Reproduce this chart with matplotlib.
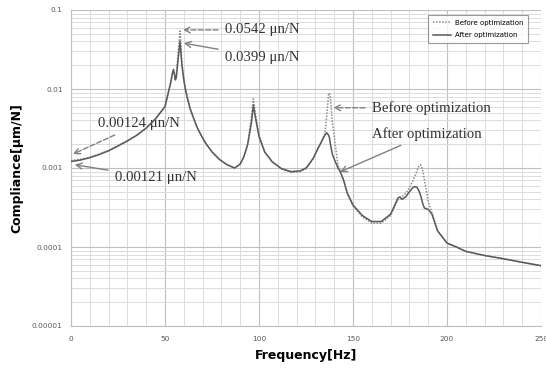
import matplotlib
matplotlib.use("Agg")
import matplotlib.pyplot as plt
from matplotlib.ticker import FixedLocator, LogLocator, NullFormatter, MultipleLocator

freq = [0, 5, 10, 15, 20, 25, 30, 35, 40, 45,
        48, 50, 52, 53, 54, 54.5, 55, 55.5, 56, 57,
        58, 59, 60, 61, 62, 63.3, 65, 66, 67, 68.5, 70, 72,
        75, 79, 83, 87, 90, 92, 94, 96, 97, 98,
        100, 103, 107, 112, 117, 122, 125, 127, 129, 131, 133, 135,
        136, 137, 137.5, 138, 139, 140, 142, 143, 145, 147,
        150, 155, 160, 165, 170, 172, 174, 175, 176, 178,
        180, 182, 183, 184, 185, 186, 187, 188, 190, 192,
        195, 200, 205, 210, 220, 230, 240, 250]

after = [0.00121, 0.00126, 0.00135, 0.00148, 0.00165, 0.0019, 0.0022, 0.0026, 0.0032, 0.0042,
         0.0052, 0.006, 0.0095, 0.012, 0.016, 0.0175, 0.0155, 0.013, 0.014, 0.024,
         0.0399, 0.02, 0.013, 0.0095, 0.0075, 0.0057, 0.0044, 0.0038, 0.0033, 0.0028, 0.0024, 0.002,
         0.0016, 0.00128, 0.0011, 0.001, 0.00112, 0.0014, 0.002, 0.0038, 0.0062, 0.0045,
         0.0025, 0.0016, 0.0012, 0.00098, 0.0009, 0.00092, 0.001, 0.00115, 0.00135, 0.0017, 0.0021, 0.0026,
         0.0028, 0.0026, 0.0024, 0.002, 0.0015, 0.0013, 0.001, 0.00092, 0.0007, 0.00048,
         0.00034, 0.00025, 0.00021, 0.00021, 0.00026, 0.00033, 0.00042, 0.00043, 0.0004, 0.00043,
         0.0005, 0.00057, 0.00058, 0.00057, 0.00052, 0.00045, 0.00036, 0.00031, 0.0003, 0.00026,
         0.00016, 0.000112, 0.0001, 0.000088, 0.000078, 0.000071, 0.000064, 0.000058]

before = [0.00124, 0.00129, 0.00137, 0.0015, 0.00167, 0.00192, 0.00222, 0.0026, 0.0032, 0.0042,
          0.0052, 0.006, 0.0095, 0.012, 0.0162, 0.0178, 0.016, 0.0133, 0.0145, 0.03,
          0.0542, 0.022, 0.0135, 0.0097, 0.0076, 0.0057, 0.0044, 0.0038, 0.0033, 0.0028, 0.0024, 0.002,
          0.0016, 0.00128, 0.0011, 0.001, 0.00112, 0.0014, 0.002, 0.0045, 0.0075, 0.005,
          0.0026, 0.0016, 0.0012, 0.00097, 0.00088, 0.0009, 0.00098, 0.00113, 0.00133, 0.0017, 0.0021, 0.0027,
          0.0045, 0.0085, 0.0089, 0.0075, 0.0038, 0.0025, 0.0011, 0.00094, 0.0007, 0.00047,
          0.00033, 0.00024, 0.0002, 0.0002, 0.00025, 0.00032, 0.0004, 0.00042, 0.00043, 0.00048,
          0.00056, 0.0007, 0.0008, 0.00092, 0.00105, 0.0011, 0.00095, 0.0007, 0.00038, 0.00027,
          0.00016, 0.000112, 0.0001, 0.000088, 0.000078, 0.000071, 0.000064, 0.000058]

assert len(freq) == len(after) == len(before)

y_ticks = [0.00001, 0.0001, 0.001, 0.01, 0.1]
y_tick_labels = ["0.00001", "0.0001", "0.001", "0.01", "0.1"]
x_ticks = [0, 50, 100, 150, 200, 250]

fig = plt.figure(figsize=(5.46, 3.72), dpi=100)
ax = fig.add_axes([71 / 546, 1 - 326 / 372, 470 / 546, 316 / 372])

ax.plot(freq, before, color="#8c8c8c", lw=1.1, ls=(0, (1, 1)), label="Before optimization", zorder=3)
ax.plot(freq, after, color="#595959", lw=1.1, ls="-", label="After optimization", zorder=4)

ax.set_yscale("log")
ax.set_xlim(0, 250)
ax.set_ylim(1e-5, 0.1)
ax.yaxis.set_major_locator(FixedLocator(y_ticks))
ax.set_yticklabels(y_tick_labels)
ax.yaxis.set_minor_locator(LogLocator(base=10, subs=range(2, 10), numticks=20))
ax.yaxis.set_minor_formatter(NullFormatter())
ax.set_xticks(x_ticks)
ax.xaxis.set_minor_locator(MultipleLocator(10))

ax.grid(True, which="major", color="#bfbfbf", lw=0.8)
ax.grid(True, which="minor", color="#dcdcdc", lw=0.7)
ax.set_axisbelow(True)
for s in ["top", "right"]:
    ax.spines[s].set_visible(False)
for s in ["left", "bottom"]:
    ax.spines[s].set_color("#bfbfbf")
    ax.spines[s].set_linewidth(0.8)
ax.tick_params(which="both", length=0, labelsize=5.3, labelcolor="#595959")
ax.tick_params(axis="y", pad=6)
ax.tick_params(axis="x", pad=7)

ax.set_xlabel("Frequency[Hz]", fontsize=9, fontweight="bold", labelpad=5)
ax.set_ylabel("Compliance[\u03bcm/N]", fontsize=9, fontweight="bold", labelpad=6)

leg = ax.legend(loc="upper right", fontsize=5, frameon=True, fancybox=False,
                edgecolor="#808080", handlelength=2.6, borderpad=0.7, labelspacing=0.9,
                handletextpad=0.6, bbox_to_anchor=(0.98, 0.995))
leg.get_frame().set_linewidth(0.8)

serif = dict(family="Liberation Serif", fontsize=10.6, color="#333333", va="center", ha="left")
ann = [
    ("0.0542 \u03bcn/N", (59.5, 0.056), (225, 30), "--"),
    ("0.0399 \u03bcn/N", (60.0, 0.038), (225, 57), "-"),
    ("0.00124 \u03bcn/N", (1.0, 0.0015), (98, 124), "--"),
    ("0.00121 \u03bcn/N", (2.0, 0.0011), (115, 178), "-"),
    ("Before optimization", (139.5, 0.0058), (372, 108), "--"),
    ("After optimization", (143, 0.00089), (372, 134), "-"),
]
for txt, xy, (px, py), ls in ann:
    ax.annotate(txt, xy=xy, xycoords="data",
                xytext=(px / 546, 1 - py / 372), textcoords="figure fraction",
                arrowprops=dict(arrowstyle="->", color="#808080", lw=1.0, ls=ls,
                                shrinkA=3, shrinkB=0),
                **serif)

fig.savefig("out.png", dpi=100)
